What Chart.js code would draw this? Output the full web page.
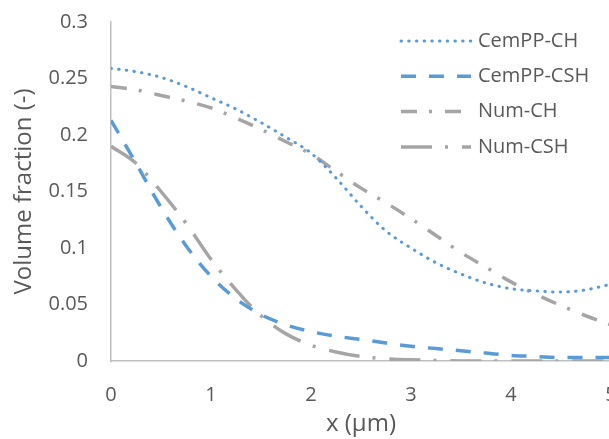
<!DOCTYPE html>
<html>
<head>
<meta charset="utf-8">
<script src="https://cdn.jsdelivr.net/npm/chart.js@4/dist/chart.umd.min.js"></script>
<style>
	html, body { margin: 0; padding: 0; background: #fff; overflow: hidden; }
</style>
</head>
<body>
<canvas id="myChart" width="640" height="439"></canvas>
<script>
var xValues = [0, 0.25, 0.5, 0.75, 1, 1.25, 1.5, 1.75, 2, 2.25, 2.5, 2.75, 3, 3.25, 3.5, 3.75, 4, 4.25, 4.5, 4.75, 5];
var cemppCH = [0.259, 0.256, 0.251, 0.243, 0.233, 0.223, 0.211, 0.198, 0.184, 0.162, 0.137, 0.115, 0.100, 0.087, 0.077, 0.069, 0.064, 0.062, 0.061, 0.063, 0.068];
var cemppCSH = [0.213, 0.175, 0.136, 0.102, 0.075, 0.055, 0.041, 0.032, 0.026, 0.022, 0.019, 0.016, 0.013, 0.011, 0.009, 0.007, 0.005, 0.004, 0.003, 0.003, 0.003];
var numCH = [0.243, 0.240, 0.235, 0.230, 0.224, 0.215, 0.205, 0.194, 0.183, 0.168, 0.153, 0.140, 0.126, 0.111, 0.096, 0.083, 0.070, 0.059, 0.049, 0.040, 0.032];
var numCSH = [0.190, 0.175, 0.150, 0.122, 0.090, 0.063, 0.040, 0.024, 0.014, 0.008, 0.004, 0.002, 0.001, 0.0005, 0, 0, 0, 0, 0, 0, 0];
var seriesNames = ["CemPP-CH", "CemPP-CSH", "Num-CH", "Num-CSH"];
var xTicks = [0, 1, 2, 3, 4, 5];
var yTicks = [0, 0.05, 0.1, 0.15, 0.2, 0.25, 0.3];

var blue = "#5B9BD5";
var gray = "#A5A5A5";
var textColor = "#595959";
var font = "'Open Sans', sans-serif";

function pts(ys) {
	return xValues.map(function (x, i) { return { x: x, y: ys[i] }; });
}

function makeSet(name, ys, color, dash, width, cap) {
	return {
		label: name,
		data: pts(ys),
		borderColor: color,
		backgroundColor: color,
		borderWidth: width,
		borderDash: dash,
		borderCapStyle: cap,
		pointRadius: 0,
		fill: false,
		cubicInterpolationMode: "monotone"
	};
}

// legend drawn by hand, top right inside the plot
var legendPlugin = {
	id: "sideLegend",
	afterDraw: function (chart) {
		var ctx = chart.ctx;
		chart.data.datasets.forEach(function (ds, i) {
			var y = 41 + i * 35.3;
			ctx.save();
			ctx.strokeStyle = ds.borderColor;
			ctx.lineWidth = ds.borderWidth;
			ctx.lineCap = ds.borderCapStyle;
			ctx.setLineDash(ds.borderDash);
			ctx.beginPath();
			ctx.moveTo(401, y);
			ctx.lineTo(471, y);
			ctx.stroke();
			ctx.restore();
			ctx.save();
			ctx.fillStyle = textColor;
			ctx.font = "20px " + font;
			ctx.textBaseline = "middle";
			ctx.fillText(ds.label, 478, y);
			ctx.restore();
		});
	}
};

new Chart("myChart", {
	type: "line",
	data: {
		datasets: [
			makeSet(seriesNames[0], cemppCH, blue, [0.5, 7.2], 3, "round"),
			makeSet(seriesNames[1], cemppCSH, blue, [15, 13], 3.5, "butt"),
			makeSet(seriesNames[2], numCH, gray, [16, 12, 3, 13], 3.5, "butt"),
			makeSet(seriesNames[3], numCSH, gray, [31, 13, 3, 14], 3.5, "butt")
		]
	},
	plugins: [legendPlugin],
	options: {
		responsive: false,
		animation: false,
		devicePixelRatio: 1,
		layout: { padding: { top: 22, right: 29, left: 0, bottom: 0 } },
		plugins: {
			legend: { display: false },
			tooltip: { enabled: false }
		},
		scales: {
			x: {
				type: "linear",
				min: 0,
				max: 5,
				afterBuildTicks: function (scale) {
					scale.ticks = xTicks.map(function (v) { return { value: v }; });
				},
				afterFit: function (scale) {
					scale.height = 78;
					scale.paddingLeft = 0;
					scale.paddingRight = 0;
				},
				grid: { drawOnChartArea: false, drawTicks: false },
				border: { display: true, color: "#BFBFBF", width: 1.5 },
				ticks: { color: textColor, font: { family: font, size: 20 }, padding: 22, maxRotation: 0 },
				title: {
					display: true,
					text: "x (µm)",
					color: textColor,
					font: { family: font, size: 24 },
					padding: { top: 0, bottom: 0 }
				}
			},
			y: {
				min: 0,
				max: 0.3,
				afterBuildTicks: function (scale) {
					scale.ticks = yTicks.map(function (v) { return { value: v }; });
				},
				afterFit: function (scale) {
					scale.width = 111;
					scale.paddingTop = 0;
					scale.paddingBottom = 0;
				},
				grid: { drawOnChartArea: false, drawTicks: false },
				border: { display: true, color: "#BFBFBF", width: 1.5 },
				ticks: {
					color: textColor,
					font: { family: font, size: 20 },
					padding: 23,
					callback: function (v) { return String(Number(v.toFixed(2))); }
				},
				title: {
					display: true,
					text: "Volume fraction (-)",
					color: textColor,
					font: { family: font, size: 24 },
					padding: { top: 10, bottom: 0 }
				}
			}
		}
	}
});
</script>
</body>
</html>
